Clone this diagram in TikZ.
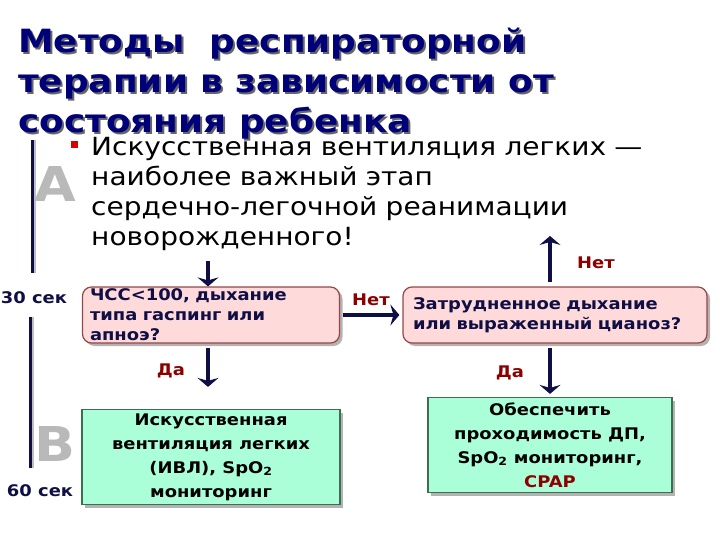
\documentclass[tikz,border=0pt]{standalone}
\usepackage{fontspec}
\setmainfont{DejaVu Sans}[FakeStretch=1.12]
\usetikzlibrary{positioning,arrows.meta,shadows}
\definecolor{navy}{RGB}{0,0,120}
\definecolor{ink}{RGB}{15,15,70}
\definecolor{darkred}{RGB}{140,0,0}
\definecolor{pinkfill}{RGB}{255,218,218}
\definecolor{pinkedge}{RGB}{150,70,70}
\definecolor{mint}{RGB}{170,255,216}
\definecolor{mintedge}{RGB}{60,110,80}

\begin{document}
\begin{tikzpicture}[x=1pt,y=-1pt,
  question/.style={draw=pinkedge,fill=pinkfill,rounded corners=9pt,line width=1.2pt,
    drop shadow={shadow xshift=3pt,shadow yshift=-3pt,opacity=.6},
    minimum height=56pt,align=left,inner sep=0pt,text=ink,
    font=\bfseries\fontsize{16}{20}\selectfont},
  action/.style={draw=mintedge,fill=mint,line width=1.2pt,
    drop shadow={shadow xshift=3pt,shadow yshift=-3pt,opacity=.6},
    minimum height=95pt,align=center,inner sep=0pt,
    font=\bfseries\fontsize{16}{24}\selectfont},
  ans/.style={text=darkred,font=\bfseries\fontsize{16}{18}\selectfont},
  sec/.style={text=ink,font=\bfseries\fontsize{16}{18}\selectfont},
  big/.style={text=gray!55,font=\bfseries\fontsize{48}{48}\selectfont},
  flow/.style={draw=ink,line width=4pt,-{Stealth[length=9pt,width=21pt,inset=3pt]}},
  >=Stealth]
\useasboundingbox (0,0) rectangle (720,540);

% timeline
\draw[gray!50,line width=2pt] (35,140) -- (35,273);
\draw[ink,line width=3pt] (32,140) -- (32,273);
\draw[gray!50,line width=2pt] (33,317) -- (33,468);
\draw[ink,line width=3pt] (30,317) -- (30,468);
\node[big] (lettA) at (55,184) {A};
\node[big] (lettB) at (55,444) {В};
\node[sec] (t30) at (34,298) {30 сек};
\node[sec] (t60) at (40,491) {60 сек};

% body text
\fill[red!85!black] (71,141) rectangle (78,148);
\node[anchor=north west,inner sep=0pt,align=left,text width=620pt,
  font=\fontsize{25}{30}\selectfont] (intro) at (91,137)
  {Искусственная вентиляция легких —\\наиболее важный этап\\сердечно-легочной реанимации\\новорожденного!};

% title
\node[anchor=north west,inner sep=0pt,align=left,text=black!60,
  font=\bfseries\fontsize{32}{40}\selectfont] (titlesh) at (20,30)
  {Методы\ \ респираторной\\терапии в зависимости от\\состояния ребенка};
\node[anchor=north west,inner sep=0pt,align=left,text=navy,
  font=\bfseries\fontsize{32}{40}\selectfont] (title) at (18,28)
  {Методы\ \ респираторной\\терапии в зависимости от\\состояния ребенка};

% boxes
\node[question,minimum width=257pt,text width=242pt] (hr) at (211,315)
  {ЧСС<100, дыхание\\типа гаспинг или\\апноэ?};
\node[question,minimum width=304pt,text width=284pt] (dys) at (555,315)
  {Затрудненное дыхание\\или выраженный цианоз?};
\node[action,minimum width=258pt] (ivl) at (211,457)
  {Искусственная\\вентиляция легких\\(ИВЛ), SpO\textsubscript{2}\\мониторинг};
\node[action,minimum width=244pt] (cpap) at (550,445)
  {Обеспечить\\проходимость ДП,\\SpO\textsubscript{2} мониторинг,\\\textcolor{darkred}{CPAP}};

% arrows
\coordinate (in) at (208,261);
\coordinate (out) at (550,236);
\draw[flow] (in) -- (in |- hr.north);
\draw[flow,shorten <=4pt,shorten >=22pt] (hr.south -| in) -- (ivl.north -| in);
\draw[flow,shorten <=3pt,shorten >=3pt] (hr.east) -- (dys.west);
\draw[flow,shorten <=4pt] (dys.north -| out) -- (out);
\draw[flow,shorten <=4pt,shorten >=3pt] (dys.south -| cpap) -- (cpap.north);

% labels
\node[ans] (yes1) at (171,371) {Да};
\node[ans] (yes2) at (510,373) {Да};
\node[ans] (no1) at (371,300) {Нет};
\node[ans] (no2) at (596,263) {Нет};
\end{tikzpicture}
\end{document}
